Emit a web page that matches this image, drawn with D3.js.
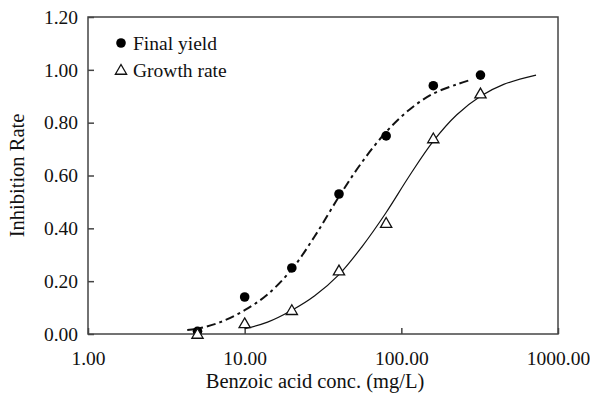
<!DOCTYPE html>
<html lang="en">
<head>
  <meta charset="UTF-8">
  <title>Inhibition Rate vs Benzoic acid</title>
  <script src="https://d3js.org/d3.v7.min.js"></script>
  <style>
    body { margin: 0; background: #fff; }
    svg text { font-family: "Liberation Serif", "DejaVu Serif", serif !important; fill: #111; }
  </style>
</head>
<body>
  <svg id="chart" width="590" height="395"></svg>
  <script>
    // measured points
    const conc = [5, 10, 20, 40, 80, 160, 320];
    const finalYield = [0.01, 0.14, 0.25, 0.53, 0.75, 0.94, 0.98];
    const growthRate = [0.00, 0.04, 0.09, 0.24, 0.42, 0.74, 0.91];

    // fitted curves
    const yieldFitX = [4.3, 5, 7, 10, 14, 20, 28, 40, 56, 80, 113, 160, 226, 270];
    const yieldFitY = [0.015, 0.02, 0.045, 0.09, 0.15, 0.245, 0.37, 0.52, 0.65, 0.765, 0.85, 0.91, 0.945, 0.96];
    const growthFitX = [10, 14, 20, 28, 40, 56, 80, 113, 160, 226, 320, 450, 724];
    const growthFitY = [0.02, 0.045, 0.09, 0.145, 0.225, 0.33, 0.46, 0.60, 0.73, 0.83, 0.90, 0.945, 0.98];

    const xTicks = [1, 10, 100, 1000];
    const yTicks = [0, 0.2, 0.4, 0.6, 0.8, 1.0, 1.2];

    const svg = d3.select("#chart");
    const margin = { top: 17, right: 32, bottom: 61, left: 88 };
    const width = 590 - margin.left - margin.right;
    const height = 395 - margin.top - margin.bottom;
    const serif = '"Liberation Serif", "DejaVu Serif", serif';

    const x = d3.scaleLog().domain([1, 1000]).range([0, width]);
    const y = d3.scaleLinear().domain([0, 1.2]).range([height, 0]);

    const g = svg.append("g").attr("transform", `translate(${margin.left},${margin.top})`);

    // frame
    g.append("rect")
      .attr("width", width).attr("height", height)
      .attr("fill", "none").attr("stroke", "#444").attr("stroke-width", 1.5);

    // axes with inward ticks
    const xAxis = g.append("g").attr("transform", `translate(0,${height})`)
      .call(d3.axisBottom(x).tickValues(xTicks).tickSize(-6).tickPadding(17).tickFormat(d3.format(".2f")));
    const yAxis = g.append("g")
      .call(d3.axisLeft(y).tickValues(yTicks).tickSize(-6).tickPadding(10).tickFormat(d3.format(".2f")));
    [xAxis, yAxis].forEach(a => {
      a.attr("font-family", serif);
      a.select(".domain").remove();
      a.selectAll("line").attr("stroke", "#444").attr("stroke-width", 1.5);
      a.selectAll("text").style("font-size", "19.5px").style("font-family", serif).attr("fill", "#111");
    });
    xAxis.selectAll("text").attr("dy", "0.71em");

    // fitted lines
    const line = d3.line().x(d => x(d[0])).y(d => y(d[1])).curve(d3.curveCatmullRom);
    g.append("path")
      .datum(d3.zip(yieldFitX, yieldFitY))
      .attr("d", line).attr("fill", "none")
      .attr("stroke", "#111").attr("stroke-width", 2)
      .attr("stroke-dasharray", "9,4,3,4");
    g.append("path")
      .datum(d3.zip(growthFitX, growthFitY))
      .attr("d", line).attr("fill", "none")
      .attr("stroke", "#111").attr("stroke-width", 1.2);

    const tri = d3.symbol().type(d3.symbolTriangle).size(55);

    // markers
    g.selectAll(".fy").data(d3.zip(conc, finalYield)).enter()
      .append("circle")
      .attr("cx", d => x(d[0])).attr("cy", d => y(d[1]))
      .attr("r", 4.8).attr("fill", "#000");
    g.selectAll(".gr").data(d3.zip(conc, growthRate)).enter()
      .append("path")
      .attr("d", tri)
      .attr("transform", d => `translate(${x(d[0])},${y(d[1]) + 1})`)
      .attr("fill", "#fff").attr("stroke", "#111").attr("stroke-width", 1.3);

    // legend
    const leg = g.append("g").attr("transform", "translate(33,26)");
    leg.append("circle").attr("cx", 0).attr("cy", 0).attr("r", 4.8).attr("fill", "#000");
    leg.append("text").attr("x", 12).attr("y", 0).attr("dy", "0.35em")
      .style("font-size", "19.5px").style("font-family", serif).text("Final yield");
    leg.append("path").attr("d", tri).attr("transform", "translate(0,28)")
      .attr("fill", "#fff").attr("stroke", "#111").attr("stroke-width", 1.3);
    leg.append("text").attr("x", 12).attr("y", 27).attr("dy", "0.35em")
      .style("font-size", "19.5px").style("font-family", serif).text("Growth rate");

    // axis titles
    svg.append("text")
      .attr("x", margin.left + width / 2 - 8).attr("y", 388)
      .attr("text-anchor", "middle").style("font-size", "20.5px").style("font-family", serif)
      .text("Benzoic acid conc. (mg/L)");
    svg.append("text")
      .attr("transform", `translate(24,${margin.top + height / 2}) rotate(-90)`)
      .attr("text-anchor", "middle").style("font-size", "20.5px").style("font-family", serif)
      .text("Inhibition Rate");
  </script>
</body>
</html>
